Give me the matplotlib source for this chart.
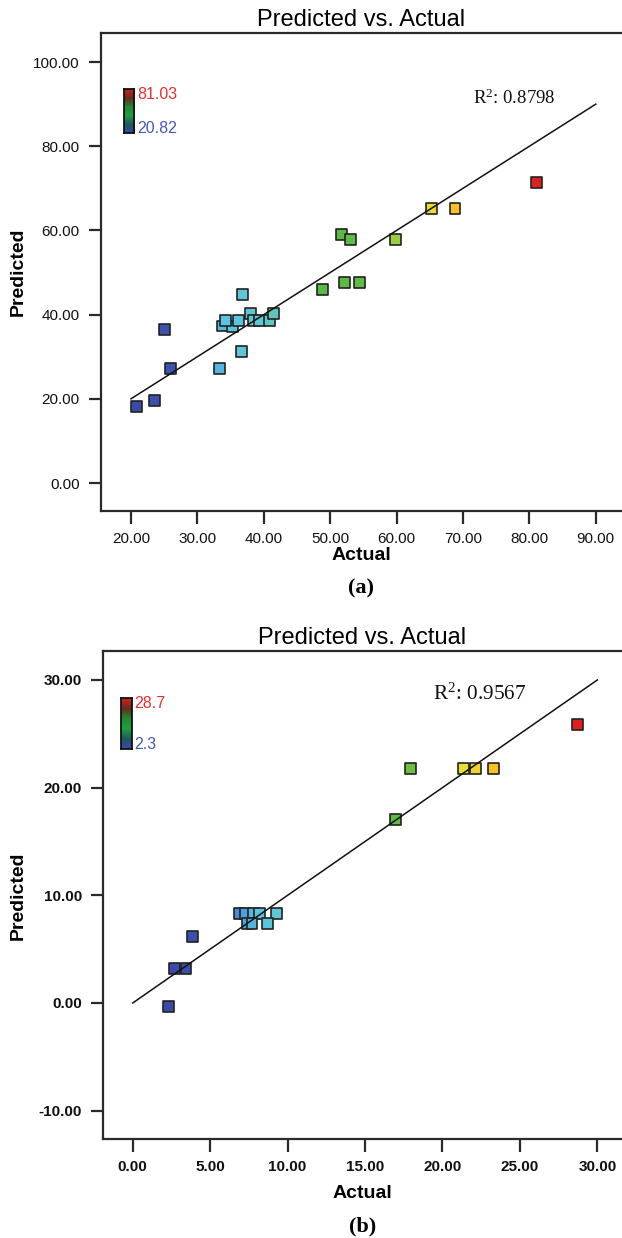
import numpy as np
import matplotlib
matplotlib.use("Agg")
import matplotlib.pyplot as plt
from matplotlib.colors import LinearSegmentedColormap, Normalize

plt.rcParams['font.family'] = ['Liberation Sans', 'DejaVu Sans']
plt.rcParams['mathtext.fontset'] = 'custom'
plt.rcParams['mathtext.rm'] = 'Liberation Serif'
plt.rcParams['mathtext.it'] = 'Liberation Serif:italic'

# panel (a)
actual_a = [20.82, 23.6, 26.0, 25.1, 33.4, 36.6, 36.8, 33.75, 35.3, 34.2, 36.2, 38.0, 38.5,
            39.3, 40.8, 41.5, 48.8, 52.2, 54.4, 51.7, 53.1, 59.9, 65.2, 68.8, 81.03]
pred_a = [18.1, 19.7, 27.2, 36.5, 27.2, 31.2, 44.7, 37.3, 37.1, 38.6, 38.6, 40.2, 38.6,
          38.6, 38.6, 40.2, 46.0, 47.7, 47.7, 59.1, 57.8, 57.8, 65.2, 65.2, 71.3]
r2_a = "0.8798"
xticks_a = [20, 30, 40, 50, 60, 70, 80, 90]
yticks_a = [0, 20, 40, 60, 80, 100]

# panel (b)
actual_b = [2.3, 2.71, 3.44, 3.85, 6.9, 7.3, 7.8, 8.2, 9.3, 7.4, 7.7, 8.7,
            16.95, 17.95, 21.35, 22.16, 23.32, 28.7]
pred_b = [-0.31, 3.19, 3.19, 6.16, 8.35, 8.35, 8.35, 8.35, 8.35, 7.4, 7.4, 7.4,
          17.05, 21.76, 21.76, 21.76, 21.76, 25.9]
r2_b = "0.9567"
xticks_b = [0, 5, 10, 15, 20, 25, 30]
yticks_b = [-10, 0, 10, 20, 30]

point_cmap = LinearSegmentedColormap.from_list("pts", [
    (0.0, '#3a4aa8'), (0.10, '#3c55b0'), (0.17, '#4a88d8'), (0.22, '#5ac4e0'),
    (0.32, '#60c8cc'), (0.38, '#5cc094'), (0.46, '#58b848'), (0.58, '#62bc40'),
    (0.66, '#a0d040'), (0.72, '#e8e030'), (0.80, '#f8c020'), (0.90, '#f08020'),
    (1.0, '#e02020')])
bar_cmap = LinearSegmentedColormap.from_list("bar", [
    '#3a48a8', '#1c5a60', '#20a040', '#1f8a34', '#6a2a1e', '#d02020'])

W, H = 622, 1238
fig = plt.figure(figsize=(W / 100, H / 100), dpi=100)


def px_axes(left, top, right, bottom):
    return fig.add_axes([left / W, 1 - bottom / H, (right - left) / W, (bottom - top) / H])


def draw_panel(ax, actual, pred, xlim, ylim, xticks, yticks, line_end, r2, r2_pos, r2_size, bold_ticks):
    norm = Normalize(vmin=min(actual), vmax=max(actual))
    ax.scatter(actual, pred, c=actual, cmap=point_cmap, norm=norm, marker='s', s=62,
               edgecolors='#222222', linewidths=1.2, zorder=3)
    ax.plot(line_end, line_end, color='#111111', lw=1.1, zorder=4)
    ax.set_xlim(*xlim)
    ax.set_ylim(*ylim)
    ax.set_xticks(xticks)
    ax.set_yticks(yticks)
    ax.set_xticklabels([f"{v:.2f}" for v in xticks])
    ax.set_yticklabels([f"{v:.2f}" for v in yticks])
    ax.spines['right'].set_visible(False)
    for s in ['left', 'bottom', 'top']:
        ax.spines[s].set_linewidth(1.6)
        ax.spines[s].set_color('#2a2a2a')
    ax.tick_params(direction='out', length=9, width=1.6, color='#2a2a2a',
                   labelsize=11, pad=6, top=False, right=False)
    for lab in ax.get_xticklabels() + ax.get_yticklabels():
        lab.set_fontweight('bold' if bold_ticks else 'normal')
        lab.set_color('#111111')
    ax.set_title("Predicted vs. Actual", fontsize=17, pad=5)
    ax.text(r2_pos[0], r2_pos[1], "R$^{2}$: " + r2, transform=ax.transAxes,
            fontsize=r2_size, family='Liberation Serif', color='#111111')


# top panel
ax1 = px_axes(100.7, 33, 622, 511)
draw_panel(ax1, actual_a, pred_a, (15.44, 93.95), (-6.65, 106.9), xticks_a, yticks_a,
           [20, 90], r2_a, (0.714, 0.851), 13.5, False)
ax1.set_xlabel("Actual", fontsize=14, fontweight='bold')
ax1.xaxis.set_label_coords(0.5, -(556 - 511) / 478, transform=ax1.transAxes)
ax1.set_ylabel("Predicted", fontsize=14, fontweight='bold')
ax1.yaxis.set_label_coords(-(100.7 - 18) / 521.3, 0.5, transform=ax1.transAxes)
ax1.xaxis.label.set_va('center')
ax1.yaxis.label.set_va('center')

# bottom panel
ax2 = px_axes(102.7, 651.3, 622, 1139.3)
draw_panel(ax2, actual_b, pred_b, (-1.94, 31.59), (-12.66, 32.66), xticks_b, yticks_b,
           [0, 30], r2_b, (0.637, 0.900), 15.3, True)
ax2.set_xlabel("Actual", fontsize=14, fontweight='bold')
ax2.xaxis.set_label_coords(0.5, -(1194 - 1139.3) / 488, transform=ax2.transAxes)
ax2.set_ylabel("Predicted", fontsize=14, fontweight='bold')
ax2.yaxis.set_label_coords(-(102.7 - 18) / 519.3, 0.5, transform=ax2.transAxes)
ax2.xaxis.label.set_va('center')
ax2.yaxis.label.set_va('center')

fig.text((100.7 + 622) / 2 / W, 1 - 588 / H, "(a)", ha='center', va='center',
         fontsize=16, fontweight='bold', family='Liberation Serif')
fig.text((102.7 + 622) / 2 / W, 1 - 1226 / H, "(b)", ha='center', va='center',
         fontsize=16, fontweight='bold', family='Liberation Serif')

# colour legends
gradient = np.linspace(0, 1, 100).reshape(-1, 1)
for (l, t, r, b), vals in [((124, 89.3, 134.3, 132.7), actual_a), ((120.7, 698.3, 131.7, 749.3), actual_b)]:
    cax = px_axes(l, t, r, b)
    cax.imshow(gradient, cmap=bar_cmap, aspect='auto', origin='lower')
    cax.set_xticks([])
    cax.set_yticks([])
    for s in cax.spines.values():
        s.set_linewidth(1.3)
        s.set_color('#111111')
    hi = f"{max(vals):.2f}" if max(vals) > 50 else f"{max(vals):.1f}"
    lo = f"{min(vals):.2f}" if max(vals) > 50 else f"{min(vals):.1f}"
    fig.text((r + 2.5) / W, 1 - (t + 5.5) / H, hi, color='#e83030', fontsize=11.5,
             va='center', ha='left')
    fig.text((r + 2.5) / W, 1 - (b - 4.5) / H, lo, color='#4858b8', fontsize=11.5,
             va='center', ha='left')

fig.savefig("out.png", dpi=100)
